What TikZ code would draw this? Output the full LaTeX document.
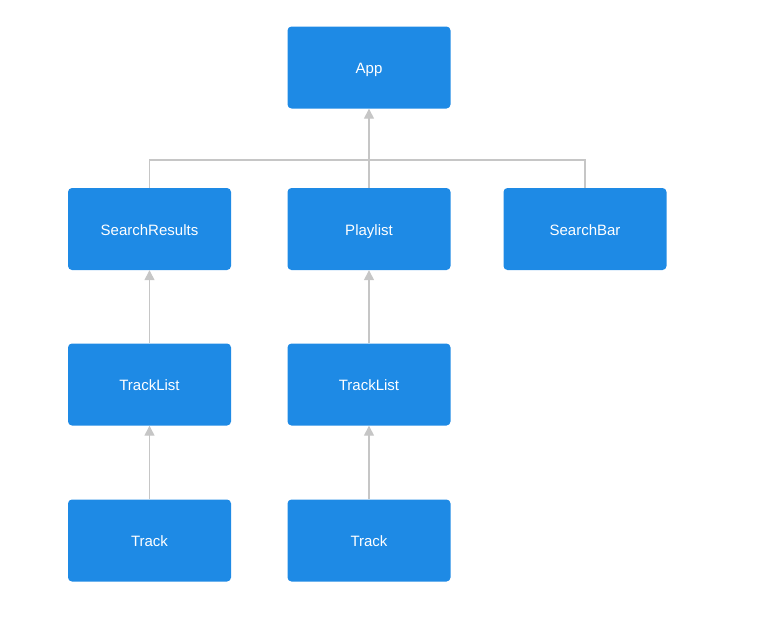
\documentclass[tikz,border=0pt]{standalone}
\usepackage{fontspec}
\setmainfont{Liberation Sans}
\usetikzlibrary{arrows.meta}
\definecolor{boxblue}{HTML}{1E8AE5}
\definecolor{linkgray}{HTML}{C6C6C6}
\begin{document}
\begin{tikzpicture}[x=1pt,y=-1pt,
  comp/.style={fill=boxblue, draw=none, rounded corners=4pt,
    minimum width=163pt, minimum height=82pt, text=white,
    font=\fontsize{15}{17}\selectfont, inner sep=0pt,
    text height=14pt, text depth=1.2pt},
  link/.style={draw=linkgray, line width=1.4pt},
  uplink/.style={link, -{Triangle[length=10pt,width=10pt]}}]
  \useasboundingbox (0,0) rectangle (774,629);
  % component tree
  \node[comp] (app) at (369,67.5) {App};
  \node[comp] (sr)  at (149.5,229) {SearchResults};
  \node[comp] (pl)  at (369,229) {Playlist};
  \node[comp] (sb)  at (585,229) {SearchBar};
  \node[comp] (tl1) at (149.5,384.5) {TrackList};
  \node[comp] (tl2) at (369,384.5) {TrackList};
  \node[comp] (t1)  at (149.5,540.5) {Track};
  \node[comp] (t2)  at (369,540.5) {Track};
  % junction of the children of App
  \coordinate (bus) at (369,160);
  \draw[link] (sr.north) |- (bus);
  \draw[link] (sb.north) |- (bus);
  \draw[uplink] (pl.north) -- (app.south);
  \draw[uplink] (tl1.north) -- (sr.south);
  \draw[uplink] (tl2.north) -- (pl.south);
  \draw[uplink] (t1.north) -- (tl1.south);
  \draw[uplink] (t2.north) -- (tl2.south);
\end{tikzpicture}
\end{document}
